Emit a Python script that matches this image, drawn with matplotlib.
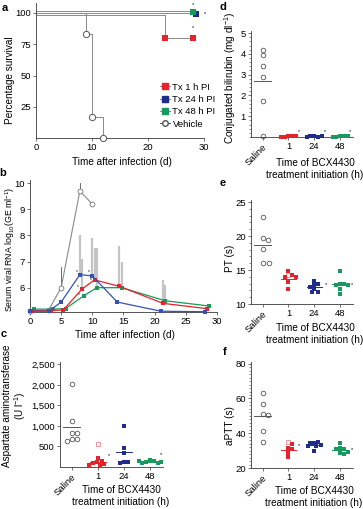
import numpy as np
import matplotlib
matplotlib.use("Agg")
import matplotlib.pyplot as plt
from matplotlib.ticker import AutoMinorLocator, FuncFormatter

plt.rcParams['font.family'] = ['Liberation Sans', 'DejaVu Sans']
plt.rcParams['font.size'] = 6.8
plt.rcParams['mathtext.fontset'] = 'custom'
plt.rcParams['mathtext.rm'] = 'Liberation Sans'
plt.rcParams['mathtext.it'] = 'Liberation Sans'

W, H = 363, 509

RED = '#e4232a'
BLUE = '#202c8c'
BLUE_B = '#3553b5'
GREEN = '#179a5b'
PINK = '#f0868c'
GREY = '#8a8a8a'
DARK = '#3a3a3a'

# ---- panel a: survival (%)
veh_t = [0, 9, 10, 12]
veh_s = [100, 83.3, 16.7, 0]
tx1_t = [0, 23, 28]
tx1_s = [100, 80, 80]
tx24_t = [0, 28]
tx24_s = [100, 100]
tx48_t = [0, 28]
tx48_s = [100, 100]

# ---- panel b: serum viral RNA (log10 GE/ml)
b_days = [0, 3, 5, 8, 10, 14, 21, 28]
b_tx24 = [5.1, 5.1, 5.45, 6.5, 6.45, 5.45, 5.1, 5.08]
b_tx1 = [5.12, 5.12, 5.15, 5.95, 6.3, 6.05, 5.4, 5.2]
b_tx48 = [5.18, 5.18, 5.2, 5.7, 6.0, 6.0, 5.5, 5.3]
b_tx24_err = [0, 0, 0, 1.5, 1.45, 0, 0, 0]
b_tx1_err = [0, 0, 0, 1.15, 1.2, 1.55, 0.9, 0]
b_tx48_err = [0, 0, 0, 0, 1.5, 1.0, 0.6, 0]
b_veh_days = [0, 3, 5, 8, 10]
b_veh = [5.1, 5.15, 6.0, 9.7, 9.2]
b_veh_err = [0, 0, 0.8, 0.3, 0]

cats = ['Saline', '1', '24', '48']

# ---- panel c: AST (U/l)
c_saline = [2030, 1110, 830, 830, 690, 690, 640]
c_tx1 = [210, 150, 120, 100, 80, 60, 50]
c_tx1_open = [560]
c_tx24 = [1010, 460, 330, 130, 110, 100]
c_tx48 = [170, 150, 120, 100, 90, 110, 140]

# ---- panel d: conjugated bilirubin (mg/dl)
d_saline = [4.2, 3.95, 3.4, 2.9, 1.75, 0.05]
d_tx1 = [0.05, 0.03, 0.02, 0.04, 0.01]
d_tx24 = [0.04, 0.02, 0.03, 0.05, 0.01]
d_tx48 = [0.03, 0.05, 0.02, 0.04, 0.01]

# ---- panel e: PT (s)
e_saline = [22.8, 19.7, 19.4, 18.1, 16.0, 16.0]
e_tx1 = [14.9, 14.2, 14.0, 13.9, 13.3, 12.2]
e_tx1_open = [14.3]
e_tx24 = [13.4, 13.0, 12.8, 12.5, 12.2, 11.8, 11.7]
e_tx48 = [14.9, 13.0, 12.9, 12.8, 12.8, 12.2, 11.5]

# ---- panel f: aPTT (s)
f_saline = [63.4, 56.9, 51.0, 50.5, 41.3, 35.2]
f_tx1 = [33.6, 31.3, 31.0, 28.5, 26.2]
f_tx1_open = [35.2]
f_tx24 = [34.6, 34.8, 34.3, 33.0, 32.5, 32.4, 30.0]
f_tx48 = [34.2, 31.3, 30.9, 30.8, 29.4, 28.9, 28.1]


fig = plt.figure(figsize=(W / 100, H / 100), dpi=100)


def px_axes(l, t, r, b):
    return fig.add_axes([l / W, 1 - b / H, (r - l) / W, (b - t) / H])


def ftext(x, y, s, **kw):
    kw.setdefault('ha', 'center')
    kw.setdefault('va', 'center')
    fig.text(x / W, 1 - y / H, s, **kw)


def style(ax):
    for s in ['top', 'right']:
        ax.spines[s].set_visible(False)
    for s in ['left', 'bottom']:
        ax.spines[s].set_color(DARK)
        ax.spines[s].set_linewidth(0.6)
    ax.tick_params(which='major', length=2.2, width=0.5, pad=1.5, color=DARK)
    ax.tick_params(which='minor', length=1.2, width=0.4, color=DARK)


def swarm(ax, x0, vals, size_px):
    # simple beeswarm in pixel space: nudge sideways until no overlap
    placed, xs = [], []
    inv = ax.transData.inverted()
    for v in vals:
        px, py = ax.transData.transform((x0, v))
        k, got = 0, None
        while got is None:
            for c in ([0] if k == 0 else [k, -k]):
                cx = px + c * size_px * 0.3
                if all((cx - qx) ** 2 + (py - qy) ** 2 >= (0.9 * size_px) ** 2
                       for qx, qy in placed):
                    got = cx
                    break
            k += 1
        placed.append((got, py))
        xs.append(inv.transform((got, py))[0])
    return xs


def dot_panel(ax, saline, groups, opens, ylim, yticks, fmt=None):
    ax.set_xlim(-0.45, 3.5)
    ax.set_ylim(*ylim)
    ax.set_yticks(yticks)
    if fmt:
        ax.yaxis.set_major_formatter(FuncFormatter(fmt))
    ax.set_xticks(range(4))
    ax.set_xticklabels(cats)
    lab = ax.get_xticklabels()[0]
    lab.set_rotation(45)
    lab.set_ha('right')
    lab.set_rotation_mode('anchor')
    xs = swarm(ax, 0, saline, 5.5)
    ax.plot(xs, saline, 'o', ms=3.3, mfc='none', mec='#555555', mew=0.6, clip_on=False)
    m = np.mean(saline)
    ax.plot([-0.33, 0.33], [m, m], color='#555555', lw=0.7)
    for i, (vals, col) in enumerate(zip(groups, [RED, BLUE, GREEN]), start=1):
        allv = list(opens.get(i, [])) + list(vals)
        xs = swarm(ax, i, allv, 4.2)
        no = len(opens.get(i, []))
        if no:
            ax.plot(xs[:no], allv[:no], 's', ms=3.0, mfc='white', mec=PINK, mew=0.6, zorder=3)
        ax.plot(xs[no:], allv[no:], 's', ms=3.0, color=col, mew=0, zorder=3, clip_on=False)
        m = np.mean(vals)
        ax.plot([i - 0.3, i + 0.3], [m, m], color=col, lw=0.7, zorder=2)
    style(ax)


# ================= panel a
ax = px_axes(36, 3, 204, 138)
ax.set_xlim(0, 30)
ax.set_ylim(0, 108)
offs = {'veh': 0.0, 'tx1': -1.3, 'tx24': 0.4, 'tx48': 1.5}


def surv_line(t, s, off):
    s = np.array(s, float)
    s = s + off * (s == 100)
    return t, s


t, s = surv_line(tx48_t, tx48_s, offs['tx48'])
ax.step(t, s, where='post', color=GREY, lw=0.7)
t, s = surv_line(tx24_t, tx24_s, offs['tx24'])
ax.step(t, s, where='post', color=GREY, lw=0.7)
t, s = surv_line(tx1_t, tx1_s, offs['tx1'])
ax.step(t, s, where='post', color=GREY, lw=0.7)
t, s = surv_line(veh_t, veh_s, offs['veh'])
ax.step(t, s, where='post', color=GREY, lw=0.7)

ax.plot(tx1_t[1:], tx1_s[1:], 's', ms=5, color=RED, mew=0, zorder=4)
ax.plot([tx24_t[-1] + 0.5], [tx24_s[-1] - 1], 's', ms=5, color=BLUE, mew=0, zorder=4, clip_on=False)
ax.plot([tx48_t[-1]], [tx48_s[-1] + 1], 's', ms=5, color=GREEN, mew=0, zorder=5, clip_on=False)
ax.plot(veh_t[1:], veh_s[1:], 'o', ms=4.5, mfc='white', mec='#555555', mew=0.7, zorder=4, clip_on=False)
for xx, yy in [(28.1, 106.5), (30.2, 99.5), (28.0, 88)]:
    ax.text(xx, yy, '*', fontsize=4, ha='center', va='center')

h1, = ax.plot([], [], 's-', color=GREY, mfc=RED, mec=RED, ms=4, lw=0.7)
h2, = ax.plot([], [], 's-', color=GREY, mfc=BLUE, mec=BLUE, ms=4, lw=0.7)
h3, = ax.plot([], [], 's-', color=GREY, mfc=GREEN, mec=GREEN, ms=4, lw=0.7)
h4, = ax.plot([], [], 'o-', color='#555555', mfc='white', mec='#555555', ms=4, lw=0.7)
ax.legend([h1, h2, h3, h4], ['Tx 1 h PI', 'Tx 24 h PI', 'Tx 48 h PI', 'Vehicle'],
          loc='lower left', bbox_to_anchor=(0.7, 0.02), frameon=False,
          handlelength=1.0, handletextpad=0.3, labelspacing=0.35, borderpad=0.2,
          fontsize=6.8)
ax.set_xticks([0, 10, 20, 30])
ax.set_yticks([25, 50, 75, 100])
style(ax)
ftext(10, 80, 'Percentage survival', rotation=90, fontsize=7.2)
ftext(122, 162, 'Time after infection (d)', fontsize=7.2)

# ================= panel b
ax = px_axes(30, 180, 217, 312)
ax.set_xlim(0, 30)
ax.set_ylim(5.07, 10.12)
series = [(b_tx24, b_tx24_err, BLUE_B, 0.0), (b_tx1, b_tx1_err, RED, 0.35),
          (b_tx48, b_tx48_err, GREEN, 0.7)]
for vals, err, col, dx in series:
    d = np.array(b_days) + dx
    for xx, yy, ee in zip(d, vals, err):
        if ee > 0:
            ax.plot([xx, xx], [yy, yy + ee], color='#c4c4c4', lw=1.6, zorder=1,
                    solid_capstyle='butt')
for xx, yy, ee in zip(b_veh_days, b_veh, b_veh_err):
    if ee > 0:
        ax.plot([xx, xx], [yy, yy + ee], color='#555555', lw=0.6, zorder=1)
ax.plot(b_veh_days, b_veh, '-o', color=GREY, lw=0.8, ms=3.5, mfc='white',
        mec='#777777', mew=0.6, zorder=3, clip_on=False)
for vals, err, col, dx in [series[2], series[1], series[0]]:
    d = np.array(b_days) + dx
    ax.plot(d, vals, '-s', color=col, lw=0.9, ms=3.3, mew=0, zorder=4, clip_on=False)
for xx, yy in [(7.5, 6.62), (9.5, 6.62), (7.7, 6.05), (9.8, 6.3), (7.8, 5.75)]:
    ax.text(xx, yy, '*', fontsize=3.5, ha='center', va='center')
ax.set_xticks([0, 5, 10, 15, 20, 25, 30])
ax.set_yticks([6, 7, 8, 9, 10])
style(ax)
ftext(10, 249, 'Serum viral RNA log$_{10}$(GE ml$^{-1}$)', rotation=90, fontsize=6.3)
ftext(125, 335, 'Time after infection (d)', fontsize=7.2)

# ================= panel c
ax = px_axes(60, 362, 163, 467)
dot_panel(ax, c_saline, [c_tx1, c_tx24, c_tx48], {1: c_tx1_open}, (0, 2560),
          [500, 1000, 1500, 2000, 2500], fmt=lambda v, p: f'{int(v):,}')
ax.text(1.42, 273, '*', fontsize=4, ha='center', va='center')
ax.text(3.42, 314, '*', fontsize=4, ha='center', va='center')
ftext(15, 406, 'Aspartate aminotransferase\n(U l$^{-1}$)', rotation=90, fontsize=7.2,
      linespacing=1.1)
ftext(121, 496, 'Time of BCX4430\ntreatment initiation (h)', fontsize=7.2, linespacing=1.15)

# ================= panel d
ax = px_axes(251, 31, 353, 137)
dot_panel(ax, d_saline, [d_tx1, d_tx24, d_tx48], {}, (0, 5.1), [1, 2, 3, 4, 5])
ax.yaxis.set_minor_locator(AutoMinorLocator(5))
for i in range(1, 4):
    ax.text(i + 0.4, 0.25, '*', fontsize=4, ha='center', va='center')
ftext(230, 78, 'Conjugated bilirubin (mg dl$^{-1}$)', rotation=90, fontsize=7.2)
ftext(315, 169, 'Time of BCX4430\ntreatment initiation (h)', fontsize=7.2, linespacing=1.15)

# ================= panel e
ax = px_axes(251, 200, 353, 304)
dot_panel(ax, e_saline, [e_tx1, e_tx24, e_tx48], {1: e_tx1_open}, (10, 25.3),
          [10, 15, 20, 25])
ax.yaxis.set_minor_locator(AutoMinorLocator(5))
ax.text(2.45, 12.8, '*', fontsize=4, ha='center', va='center')
ax.text(3.45, 12.9, '*', fontsize=4, ha='center', va='center')
ftext(230, 258, 'PT (s)', rotation=90, fontsize=7.2)
ftext(315, 334, 'Time of BCX4430\ntreatment initiation (h)', fontsize=7.2, linespacing=1.15)

# ================= panel f
ax = px_axes(251, 362, 353, 468)
dot_panel(ax, f_saline, [f_tx1, f_tx24, f_tx48], {1: f_tx1_open}, (20, 81),
          [20, 40, 60, 80])
ax.yaxis.set_minor_locator(AutoMinorLocator(10))
ax.text(1.42, 32.7, '*', fontsize=4, ha='center', va='center')
ax.text(3.45, 30.8, '*', fontsize=4, ha='center', va='center')
ftext(230, 426, 'aPTT (s)', rotation=90, fontsize=7.2)
ftext(314, 497, 'Time of BCX4430\ntreatment initiation (h)', fontsize=7.2, linespacing=1.15)

# panel letters
for (x, y, s) in [(5, 8, 'a'), (3, 173, 'b'), (4, 334, 'c'),
                  (223, 7, 'd'), (223, 183, 'e'), (225, 352, 'f')]:
    ftext(x, y, s, fontsize=8, fontweight='bold')

fig.savefig('out.png', dpi=100)
